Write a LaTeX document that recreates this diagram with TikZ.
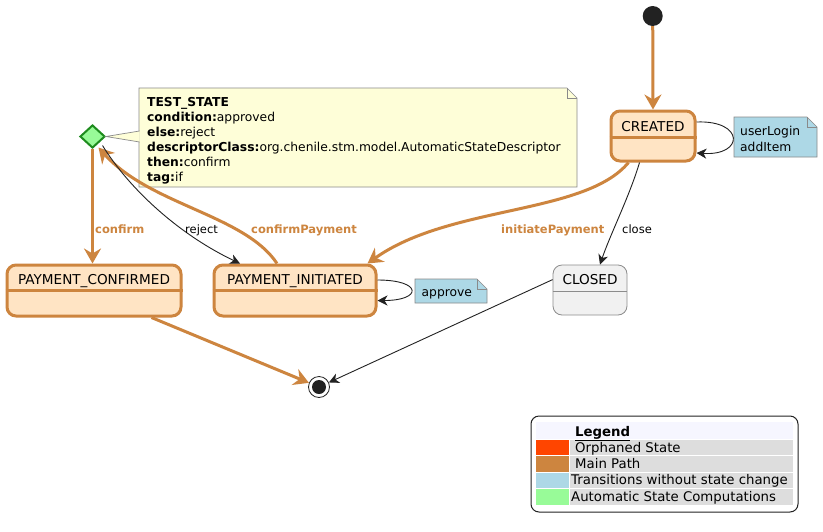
\documentclass[tikz,border=0pt]{standalone}
\usepackage{fontspec}
\setmainfont{DejaVu Sans}
\usetikzlibrary{shapes.geometric,arrows.meta}
\definecolor{peru}{HTML}{CD853F}
\definecolor{bisque}{HTML}{FFE4C4}
\definecolor{lblue}{HTML}{ADD8E6}
\definecolor{pgreen}{HTML}{98FB98}
\definecolor{dgreen}{HTML}{1E8C1E}
\definecolor{ored}{HTML}{FF4500}
\definecolor{notey}{HTML}{FEFED8}
\definecolor{noteline}{HTML}{8A8A8A}
\definecolor{closedfill}{HTML}{F1F1F1}
\definecolor{closedline}{HTML}{8C8C8C}
\definecolor{dark}{HTML}{222222}
\definecolor{leggray}{HTML}{DDDDDD}
\definecolor{leghead}{HTML}{F6F6FF}
\newcommand{\mynotebox}[5]{%
  \path[fill=#5,draw=noteline,line width=0.7pt] (#1,#2) -- (#3-10,#2) -- (#3,#2+10) -- (#3,#4) -- (#1,#4) -- cycle;
  \draw[noteline,line width=0.7pt] (#3-10,#2) -- (#3-10,#2+10) -- (#3,#2+10);}
\tikzset{
  mstate/.style={draw=peru,fill=bisque,line width=3pt,rounded corners=9pt,inner sep=0pt},
  cstate/.style={draw=closedline,fill=closedfill,line width=0.8pt,rounded corners=9pt,inner sep=0pt},
  sname/.style={font=\fontsize{13.6}{16}\selectfont,anchor=base,inner sep=0pt},
  mainpath/.style={draw=peru,line width=3pt,-{Stealth[length=15pt,width=17pt,inset=5pt]}},
  thinarr/.style={draw=dark,line width=0.9pt,-{Stealth[length=10pt,width=10pt,inset=3pt]}},
  olabel/.style={font=\fontsize{11.5}{14}\selectfont\bfseries,text=peru,anchor=base west,inner sep=0pt},
  blabel/.style={font=\fontsize{11.5}{14}\selectfont,text=black,anchor=base west,inner sep=0pt},
  ntext/.style={font=\fontsize{12.3}{14}\selectfont,anchor=base west,inner sep=0pt},
  ltext/.style={font=\fontsize{13.3}{16}\selectfont,anchor=base west,inner sep=0pt},
}
\begin{document}
\begin{tikzpicture}[x=1pt,y=-1pt]
\useasboundingbox (0,0) rectangle (823,531);
\fill[white] (0,0) rectangle (823,531);

% notes
\mynotebox{139}{88}{577}{187}{notey}
\mynotebox{734}{117}{817}{157}{lblue}
\mynotebox{415}{279}{487}{303}{lblue}

% states
\node[mstate,minimum width=84pt,minimum height=50pt] (created) at (653,136) {};
\draw[peru,line width=3pt] ([yshift=-28pt]created.north west) -- ([yshift=-28pt]created.north east);
\node[sname] (createdt) at (653,131) {CREATED};

\node[mstate,minimum width=174pt,minimum height=51pt] (pconf) at (94,290.5) {};
\draw[peru,line width=3pt] ([yshift=-27pt]pconf.north west) -- ([yshift=-27pt]pconf.north east);
\node[sname] (pconft) at (94,284) {PAYMENT\_CONFIRMED};

\node[mstate,minimum width=162pt,minimum height=51pt] (pinit) at (295,290.5) {};
\draw[peru,line width=3pt] ([yshift=-27pt]pinit.north west) -- ([yshift=-27pt]pinit.north east);
\node[sname] (pinitt) at (295,284) {PAYMENT\_INITIATED};

\node[cstate,minimum width=74pt,minimum height=50pt] (closed) at (590,290) {};
\draw[closedline,line width=0.8pt] ([yshift=-27pt]closed.north west) -- ([yshift=-27pt]closed.north east);
\node[sname] (closedt) at (590,284) {CLOSED};

% diamond
\node[diamond,draw=dgreen,fill=pgreen,line width=2pt,minimum width=25pt,minimum height=23pt,inner sep=0pt] (dia) at (92.5,136.5) {};

% start / end
\node[circle,fill=dark,minimum size=20pt,inner sep=0pt] (start) at (652.7,16) {};
\node[circle,draw=dark,fill=white,line width=0.8pt,minimum size=21pt,inner sep=0pt] (end) at (319,387) {};
\fill[dark] (end.center) circle (7pt);

% note connector
\coordinate (nc1) at (139.6,131);
\coordinate (nc2) at (139.6,142);
\fill[notey] (dia.east) -- (nc1) -- (nc2) -- cycle;
\draw[noteline,line width=0.7pt] (nc1) -- (dia.east) -- (nc2);

% note texts
\node[ntext] (n1) at (147,106) {\bfseries TEST\_STATE};
\node[ntext] (n2) at (147,121) {\textbf{condition:}approved};
\node[ntext] (n3) at (147,136) {\textbf{else:}reject};
\node[ntext] (n4) at (147,151) {\textbf{descriptorClass:}org.chenile.stm.model.AutomaticStateDescriptor};
\node[ntext] (n5) at (147,166) {\textbf{then:}confirm};
\node[ntext] (n6) at (147,181) {\textbf{tag:}if};
\node[ntext] (u1) at (740,135) {userLogin};
\node[ntext] (u2) at (740,151) {addItem};
\node[ntext] (a1) at (421.5,296) {approve};

% edges
\draw[mainpath] (start) -- (created.north);
\draw[thinarr] ([yshift=14pt]created.east) .. controls +(48,-2) and +(48,3) .. ([yshift=-17pt]created.east);
\draw[mainpath] ([xshift=19pt]created.south west) .. controls (585,215) and (450,205) .. ([xshift=-10pt]pinit.north east);
\draw[thinarr] ([xshift=30pt]created.south west) .. controls (630,195) and (610,235) .. ([xshift=10pt]closed.north);
\draw[mainpath] (dia.south) -- (dia.south |- pconf.north);
\draw[mainpath] ([xshift=-18pt]pinit.north) .. controls (245,215) and (150,205) .. ([xshift=6pt,yshift=-11pt]dia.center);
\draw[thinarr] ([xshift=10pt,yshift=-9pt]dia.center) .. controls (130,190) and (180,235) .. ([xshift=-55pt]pinit.north);
\draw[thinarr] ([yshift=10.5pt]pinit.east) .. controls +(45,0) and +(45,0) .. ([yshift=-10pt]pinit.east);
\draw[mainpath] ([xshift=-31pt]pconf.south east) -- (end);
\draw[thinarr] ([yshift=-15pt]closed.north west) -- (end);

% labels
\node[olabel] (lconfirm) at (95,233) {confirm};
\node[blabel] (lreject) at (185,233) {reject};
\node[olabel] (lcp) at (251,233) {confirmPayment};
\node[olabel] (lip) at (501,233) {initiatePayment};
\node[blabel] (lclose) at (622,233) {close};

% legend
\draw[draw=dark,line width=1pt,fill=white,rounded corners=8pt] (531,416) rectangle (798,512);
\fill[leghead] (536,422) rectangle (793,439);
\fill[ored] (536,440) rectangle (569,455);
\fill[leggray] (570,440) rectangle (793,455);
\fill[peru] (536,456) rectangle (569,471.5);
\fill[leggray] (570,456) rectangle (793,471.5);
\fill[lblue] (536,472.5) rectangle (569,488);
\fill[leggray] (570,472.5) rectangle (793,488);
\fill[pgreen] (536,489) rectangle (569,505);
\fill[leggray] (570,489) rectangle (793,505);
\node[ltext] (lg0) at (575,436) {\bfseries\underline{Legend}};
\node[ltext] (lg1) at (575,452) {Orphaned State};
\node[ltext] (lg2) at (575,468) {Main Path};
\node[ltext] (lg3) at (571,484.5) {Transitions without state change};
\node[ltext] (lg4) at (571,501) {Automatic State Computations};
\end{tikzpicture}
\end{document}
